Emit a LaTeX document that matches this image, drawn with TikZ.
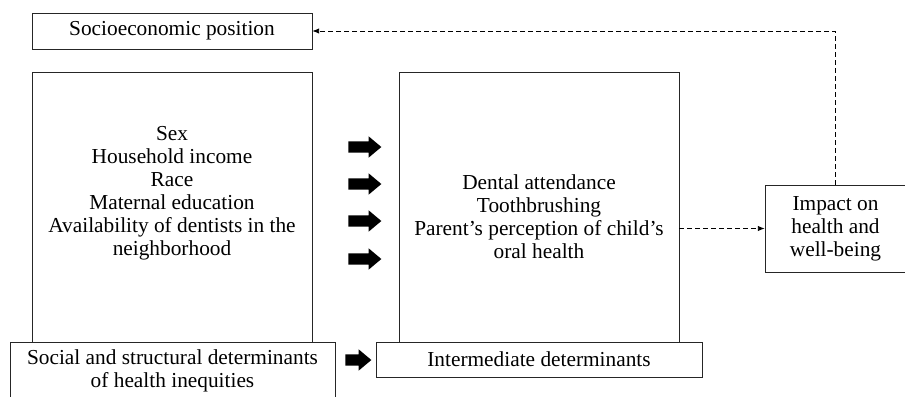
\documentclass[tikz,border=0pt]{standalone}
\usepackage{fontspec}
\setmainfont{Liberation Serif}
\usetikzlibrary{shapes.arrows,arrows.meta}

\begin{document}
\begin{tikzpicture}[x=0.75pt,y=-0.75pt,
    box/.style={draw=black!85,line width=0.6pt,fill=white,inner sep=0pt,
      align=center,font=\fontsize{16}{17.2}\selectfont},
    lines/.style={align=center,inner sep=0pt,font=\fontsize{16}{17.2}\selectfont},
    blockarrow/.style={single arrow,fill=black,inner xsep=0pt,inner ysep=4pt,
      minimum height=24.75pt,minimum width=15.5pt,
      single arrow head extend=3.75pt,single arrow tip angle=80},
    feedback/.style={dash pattern=on 3.5pt off 2.5pt,line width=0.6pt,
      -{Latex[length=5pt,width=4pt]}}]
  \useasboundingbox (0,0) rectangle (905,396);
  \clip (0,0) rectangle (905,396);

  % upper row
  \node[box,minimum width=210pt,minimum height=27pt] (sep) at (172,31)
    {Socioeconomic position};

  % the two large boxes
  \node[box,minimum width=210pt,minimum height=202.5pt] (sdh) at (172,207) {};
  \node[lines] (sdhlist) at (172,193) {Sex\\Household income\\Race\\
    Maternal education\\Availability of dentists in the\\neighborhood};
  \node[box,minimum width=210pt,minimum height=202.5pt] (mid) at (539,207) {};
  \node[lines] (midlist) at (539,217) {Dental attendance\\Toothbrushing\\
    Parent’s perception of child’s\\oral health};

  % block arrows between them
  \foreach \y [count=\i] in {147,184,221,259}
    \node[blockarrow] (ba\i) at (361.5,\y) {};

  % labels underneath
  \node[box,minimum width=243.75pt,minimum height=43.5pt] (sdhlab) at (172.5,371)
    {Social and structural determinants\\of health inequities};
  \node[box,minimum width=244.5pt,minimum height=26.25pt] (midlab) at (539,359.5)
    {Intermediate determinants};
  \node[blockarrow,minimum height=19.5pt] (ba5) at (355,360) {};

  % outcome and feedback
  \node[box,minimum width=105.75pt,minimum height=65.25pt] (imp) at (835.5,228.5)
    {Impact on\\health and\\well-being};
  \draw[feedback] (mid.east |- imp.west) -- (imp.west);
  \draw[feedback] (imp.north) |- (sep.east);
\end{tikzpicture}
\end{document}
